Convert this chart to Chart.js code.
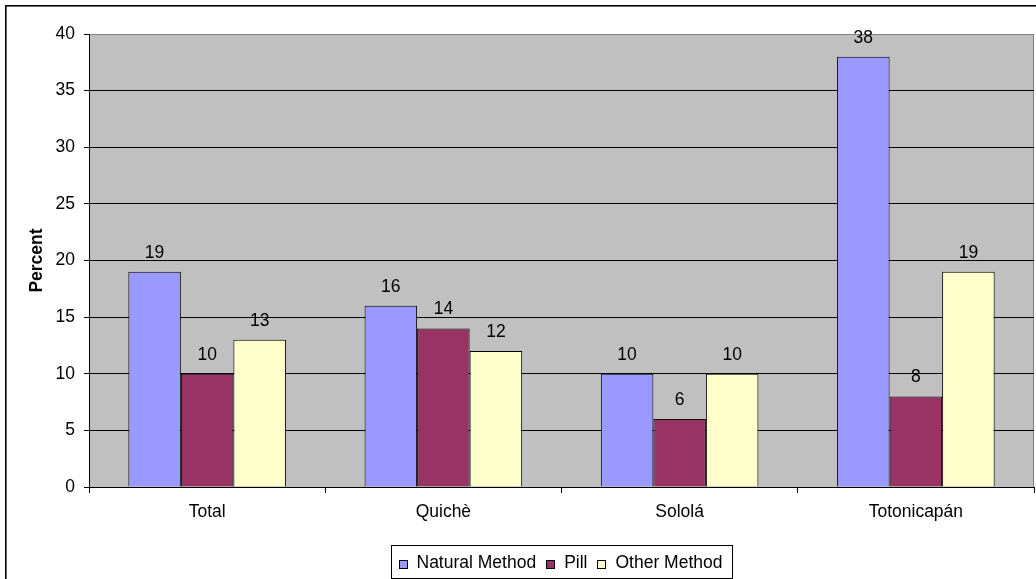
<!DOCTYPE html>
<html>
<head>
<meta charset="utf-8">
<script src="https://cdn.jsdelivr.net/npm/chart.js@4.4.0/dist/chart.umd.min.js"></script>
<style>
  html, body { margin: 0; padding: 0; background: #fff; }
  #wrap { width: 1036px; height: 579px; }
</style>
</head>
<body>
<div id="wrap"><canvas id="chart"></canvas></div>
<script>
const categories = ['Total', 'Quichè', 'Sololá', 'Totonicapán'];
const naturalMethod = [19, 16, 10, 38];
const pill = [10, 14, 6, 8];
const otherMethod = [13, 12, 10, 19];
const seriesNames = ['Natural Method', 'Pill', 'Other Method'];
const seriesColors = ['#9999FF', '#993366', '#FFFFCC'];
const yMin = 0, yMax = 40, yStep = 5;

const FONT = "'Liberation Sans', Arial, sans-serif";
const FONT_SIZE = 17.5;

// gray plot area, outer frame
const frame = {
  id: 'frame',
  beforeDraw(chart) {
    const { ctx, chartArea: a } = chart;
    ctx.save();
    ctx.fillStyle = '#fff';
    ctx.fillRect(0, 0, chart.width, chart.height);
    ctx.fillStyle = '#C0C0C0';
    ctx.fillRect(a.left, a.top, a.right - a.left, a.bottom - a.top);
    ctx.strokeStyle = '#808080';
    ctx.lineWidth = 1;
    ctx.strokeRect(a.left + 0.5, a.top + 0.5, a.right - a.left - 1, a.bottom - a.top);
    ctx.restore();
  },
  afterDraw(chart) {
    const ctx = chart.ctx;
    ctx.save();
    ctx.strokeStyle = '#000';
    ctx.lineWidth = 1.6;
    ctx.strokeRect(5.8, 5.8, chart.width + 20, chart.height + 20);
    ctx.restore();
  }
};

// value labels above the bars
const valueLabels = {
  id: 'valueLabels',
  afterDatasetsDraw(chart) {
    const ctx = chart.ctx;
    ctx.save();
    ctx.font = FONT_SIZE + 'px ' + FONT;
    ctx.fillStyle = '#000';
    ctx.textAlign = 'center';
    ctx.textBaseline = 'alphabetic';
    chart.data.datasets.forEach((ds, i) => {
      chart.getDatasetMeta(i).data.forEach((bar, j) => {
        ctx.fillText(ds.data[j], bar.x, bar.y - 14);
      });
    });
    ctx.restore();
  }
};

// boxed legend under the axis
const boxLegend = {
  id: 'boxLegend',
  afterDraw(chart) {
    const { ctx, chartArea: a } = chart;
    ctx.save();
    ctx.font = FONT_SIZE + 'px ' + FONT;
    const sq = 8, gapSq = 10, gapItem = 10, padL = 7, padR = 10;
    const items = chart.data.datasets.map(ds => ({
      label: ds.label, color: ds.backgroundColor, w: ctx.measureText(ds.label).width
    }));
    let content = 0;
    items.forEach((it, i) => { content += sq + gapSq + it.w + (i ? gapItem : 0); });
    const boxW = Math.round(content + padL + padR);
    const boxH = 33;
    const boxX = Math.round((a.left + a.right) / 2 - boxW / 2) + 0.5;
    const boxY = a.bottom + 58.5;
    ctx.fillStyle = '#fff';
    ctx.fillRect(boxX, boxY, boxW, boxH);
    ctx.strokeStyle = '#000';
    ctx.lineWidth = 1;
    ctx.strokeRect(boxX, boxY, boxW, boxH);
    const cy = boxY + boxH / 2;
    let x = boxX + padL;
    ctx.textBaseline = 'alphabetic';
    ctx.textAlign = 'left';
    items.forEach((it, i) => {
      if (i) x += gapItem;
      const sx = Math.round(x) + 0.5, sy = Math.round(cy - 2) + 0.5;
      ctx.fillStyle = it.color;
      ctx.fillRect(sx, sy, sq, sq);
      ctx.strokeStyle = '#000';
      ctx.strokeRect(sx, sy, sq, sq);
      x += sq + gapSq;
      ctx.fillStyle = '#000';
      ctx.fillText(it.label, x, cy + 6);
      x += it.w;
    });
    ctx.restore();
  }
};

const seriesData = [naturalMethod, pill, otherMethod];

new Chart(document.getElementById('chart'), {
  type: 'bar',
  data: {
    labels: categories,
    datasets: seriesData.map((d, i) => ({
      label: seriesNames[i],
      data: d,
      backgroundColor: seriesColors[i],
      borderColor: '#000',
      borderWidth: 1,
      categoryPercentage: 0.667,
      barPercentage: 1
    }))
  },
  options: {
    responsive: true,
    maintainAspectRatio: false,
    animation: false,
    layout: { padding: { left: 6, top: 34, right: 2, bottom: 52 } },
    plugins: {
      legend: { display: false },
      tooltip: { enabled: false }
    },
    scales: {
      x: {
        grid: {
          offset: true,
          drawOnChartArea: false,
          drawTicks: true,
          tickLength: 6,
          tickColor: '#000'
        },
        border: { display: true, color: '#000', width: 1 },
        ticks: {
          color: '#000',
          padding: 9,
          font: { family: FONT, size: FONT_SIZE }
        },
        afterFit(scale) { scale.height = 40; }
      },
      y: {
        min: yMin,
        max: yMax,
        grid: {
          color: c => (c.tick && c.tick.value === yMax ? '#808080' : '#000'),
          lineWidth: 1,
          drawTicks: true,
          tickLength: 5,
          tickColor: '#000'
        },
        border: { display: true, color: '#000', width: 1 },
        ticks: {
          stepSize: yStep,
          color: '#000',
          padding: 9,
          font: { family: FONT, size: FONT_SIZE }
        },
        title: {
          display: true,
          text: 'Percent',
          color: '#000',
          padding: { top: 21, bottom: 0 },
          font: { family: FONT, size: FONT_SIZE, weight: 'bold' }
        },
        afterFit(scale) { scale.width = 83; }
      }
    }
  },
  plugins: [frame, valueLabels, boxLegend]
});
</script>
</body>
</html>
